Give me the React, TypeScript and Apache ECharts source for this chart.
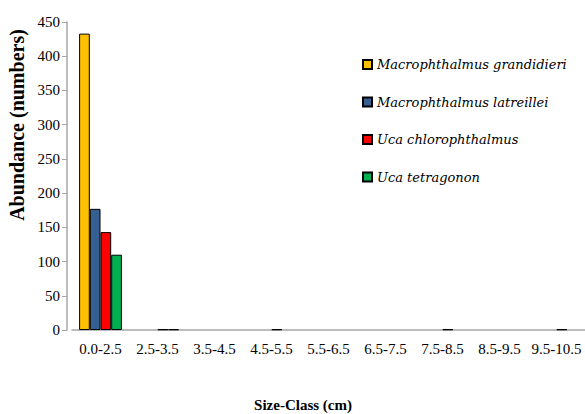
import React, { useEffect, useRef } from "react";
import * as echarts from "echarts";

const categories = ["0.0-2.5", "2.5-3.5", "3.5-4.5", "4.5-5.5", "5.5-6.5", "6.5-7.5", "7.5-8.5", "8.5-9.5", "9.5-10.5"];
const seriesNames = ["Macrophthalmus grandidieri", "Macrophthalmus latreillei", "Uca chlorophthalmus", "Uca tetragonon"];
const grandidieri = [433, 0, 0, 0, 0, 0, 0, 0, 0];
const latreillei = [177, 0, 0, 0, 0, 0, 0, 0, 0];
const chlorophthalmus = [143, 1, 0, 1, 0, 0, 1, 0, 1];
const tetragonon = [110, 1, 0, 0, 0, 0, 0, 0, 0];
const colors = ["#FFC000", "#376092", "#FF0000", "#00B050"];
const yTicks = { min: 0, max: 450, interval: 50 };

const FONT = "Liberation Serif";

export default function App() {
  const ref = useRef<HTMLDivElement>(null);
  useEffect(() => {
    if (!ref.current) return;
    const chart = echarts.init(ref.current, undefined, { renderer: "svg" });
    const data = [grandidieri, latreillei, chlorophthalmus, tetragonon];
    chart.setOption({
      animation: false,
      backgroundColor: "#ffffff",
      grid: { left: 72, right: 0, top: 22, bottom: 84, containLabel: false },
      legend: {
        orient: "vertical",
        left: 357,
        top: 53,
        itemWidth: 9,
        itemHeight: 9,
        itemGap: 24.5,
        icon: "rect",
        data: seriesNames,
        textStyle: { fontFamily: "DejaVu Serif", fontStyle: "italic", fontSize: 13, color: "#000" },
      },
      xAxis: {
        type: "category",
        data: categories,
        axisLine: { lineStyle: { color: "#A6A6A6", width: 1.5 } },
        axisTick: { show: false },
        axisLabel: { fontFamily: FONT, fontSize: 15, color: "#000", margin: 11, interval: 0 },
      },
      yAxis: {
        type: "value",
        min: yTicks.min,
        max: yTicks.max,
        interval: yTicks.interval,
        offset: 5,
        splitLine: { show: false },
        axisLine: { show: true, lineStyle: { color: "#A6A6A6", width: 1.5 } },
        axisTick: { show: true, length: 5, lineStyle: { color: "#A6A6A6" } },
        axisLabel: { fontFamily: FONT, fontSize: 15, color: "#000", margin: 7 },
      },
      series: data.map((d, i) => ({
        name: seriesNames[i],
        type: "bar",
        data: d.map((v) => (v === 0 ? null : v)),
        barWidth: 10.7,
        barGap: "0%",
        itemStyle: { color: colors[i], borderColor: "#000", borderWidth: 1 },
      })),
      graphic: [
        {
          type: "text",
          x: 17,
          y: 125,
          rotation: Math.PI / 2,
          style: {
            text: "Abundance (numbers)",
            font: `bold 20px ${FONT}`,
            fill: "#000",
            textAlign: "center",
            textVerticalAlign: "middle",
          },
        },
        {
          type: "text",
          x: 303,
          y: 405,
          style: {
            text: "Size-Class (cm)",
            font: `bold 15px ${FONT}`,
            fill: "#000",
            textAlign: "center",
            textVerticalAlign: "middle",
          },
        },
      ],
    });
    return () => chart.dispose();
  }, []);
  return <div ref={ref} style={{ width: 585, height: 414, position: "absolute", left: 0, top: 0 }} />;
}
